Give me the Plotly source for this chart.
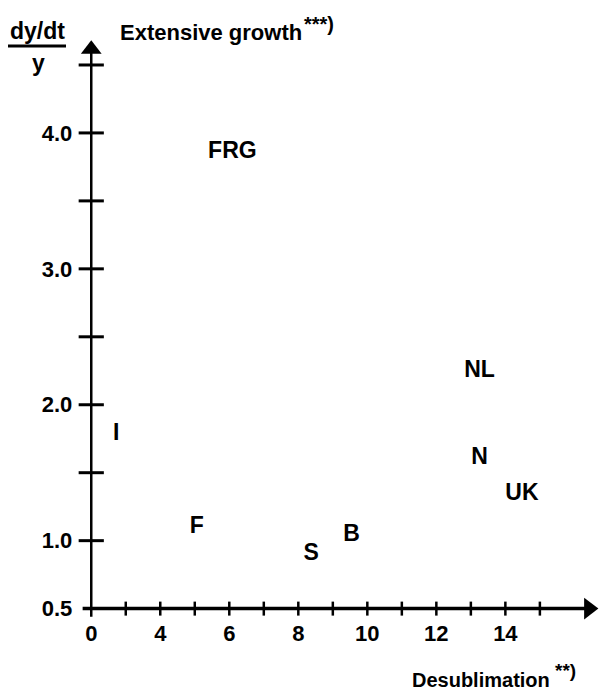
import plotly.graph_objects as go

# ---- data (x read on the drawn axis scale; the axis is broken so that the
# label "0" sits two units left of "4") ----
countries = ["FRG", "NL", "N", "UK", "I", "F", "S", "B"]
desublimation = [6.09, 13.25, 13.25, 14.48, 2.72, 5.06, 8.37, 9.54]
growth = [3.86, 2.25, 1.61, 1.34, 1.78, 1.10, 0.90, 1.04]

x_tick_vals = [2, 3, 4, 5, 6, 7, 8, 9, 10, 11, 12, 13, 14, 15]
x_tick_text = ["0", "", "4", "", "6", "", "8", "", "10", "", "12", "", "14", ""]
y_tick_vals = [0.5, 1.0, 1.5, 2.0, 2.5, 3.0, 3.5, 4.0, 4.5]
y_tick_text = ["0.5", "1.0", "", "2.0", "", "3.0", "", "4.0", ""]

# axis geometry
X_ORIGIN, Y_ORIGIN = 2.0, 0.5
X_RANGE = [1.5, 16.8]
Y_RANGE = [0.35, 4.75]
X_ARROW, Y_ARROW = 16.42, 4.615

W, H = 602, 693
ML, MR, MT, MB = 74, 0, 31, 64
PW, PH = W - ML - MR, H - MT - MB

FONT = "Liberation Sans, Arial, sans-serif"


def px(xp):
    return (xp - ML) / PW


def py(yp):
    return (H - MB - yp) / PH


fig = go.Figure()

# axes lines
fig.add_trace(go.Scatter(x=[1.75, X_ARROW], y=[Y_ORIGIN, Y_ORIGIN], mode="lines",
                         line=dict(color="black", width=3.5), hoverinfo="skip", cliponaxis=False))
fig.add_trace(go.Scatter(x=[X_ORIGIN, X_ORIGIN], y=[0.44, Y_ARROW], mode="lines",
                         line=dict(color="black", width=2.5), hoverinfo="skip", cliponaxis=False))

# crossing tick marks
fig.add_trace(go.Scatter(x=x_tick_vals[1:], y=[Y_ORIGIN] * (len(x_tick_vals) - 1), mode="markers",
                         marker=dict(symbol="line-ns", size=10, line=dict(color="black", width=2.5)),
                         hoverinfo="skip", cliponaxis=False))
fig.add_trace(go.Scatter(x=[X_ORIGIN] * (len(y_tick_vals) - 1), y=y_tick_vals[1:], mode="markers",
                         marker=dict(symbol="line-ew", size=18, line=dict(color="black", width=3)),
                         hoverinfo="skip", cliponaxis=False))

# arrow heads
fig.add_trace(go.Scatter(x=[X_ARROW], y=[Y_ORIGIN], mode="markers",
                         marker=dict(symbol="triangle-right", size=19, color="black"),
                         hoverinfo="skip", cliponaxis=False))
fig.add_trace(go.Scatter(x=[X_ORIGIN], y=[Y_ARROW], mode="markers",
                         marker=dict(symbol="triangle-up", size=18, color="black"),
                         hoverinfo="skip", cliponaxis=False))

# country labels
fig.add_trace(go.Scatter(x=desublimation, y=growth, mode="text", text=countries,
                         textposition="middle center",
                         textfont=dict(family=FONT, size=23, color="black", weight="bold"),
                         cliponaxis=False))

TXT = dict(family=FONT, size=22, color="black", weight="bold")

fig.update_layout(
    width=W, height=H,
    margin=dict(l=ML, r=MR, t=MT, b=MB),
    paper_bgcolor="white", plot_bgcolor="white",
    showlegend=False,
    xaxis=dict(range=X_RANGE, showgrid=False, zeroline=False, showline=False,
               tickvals=x_tick_vals, ticktext=x_tick_text, ticks="",
               anchor="free", position=(Y_ORIGIN - Y_RANGE[0]) / (Y_RANGE[1] - Y_RANGE[0]),
               ticklabelstandoff=9,
               tickfont=dict(family=FONT, size=22, color="black", weight="bold")),
    yaxis=dict(range=Y_RANGE, showgrid=False, zeroline=False, showline=False,
               tickvals=y_tick_vals, ticktext=y_tick_text, ticks="",
               anchor="free", position=(X_ORIGIN - X_RANGE[0]) / (X_RANGE[1] - X_RANGE[0]),
               ticklabelstandoff=19,
               tickfont=dict(family=FONT, size=22, color="black", weight="bold")),
    annotations=[
        dict(text="dy/dt", x=px(37), y=py(31), xref="paper", yref="paper", showarrow=False,
             xanchor="center", yanchor="middle", font=dict(TXT, size=23)),
        dict(text="y", x=px(38), y=py(63), xref="paper", yref="paper", showarrow=False,
             xanchor="center", yanchor="middle", font=dict(TXT, size=23)),
        dict(text="Extensive growth", x=px(118), y=py(32), xref="paper", yref="paper",
             showarrow=False, xanchor="left", yanchor="middle", font=TXT),
        dict(text="***)", x=px(302), y=py(24), xref="paper", yref="paper",
             showarrow=False, xanchor="left", yanchor="middle", font=dict(TXT, size=20)),
        dict(text="Desublimation", x=px(552), y=py(680), xref="paper", yref="paper",
             showarrow=False, xanchor="right", yanchor="middle", font=dict(TXT, size=20)),
        dict(text="**)", x=px(553), y=py(670), xref="paper", yref="paper",
             showarrow=False, xanchor="left", yanchor="middle", font=dict(TXT, size=19)),
    ],
    shapes=[
        dict(type="line", xref="paper", yref="paper", x0=px(8), x1=px(66), y0=py(46), y1=py(46),
             line=dict(color="black", width=3)),
    ],
)

fig.write_html("out.html", config={"displayModeBar": False},
               post_script="document.body.style.margin='0px';document.body.style.padding='0px';")
